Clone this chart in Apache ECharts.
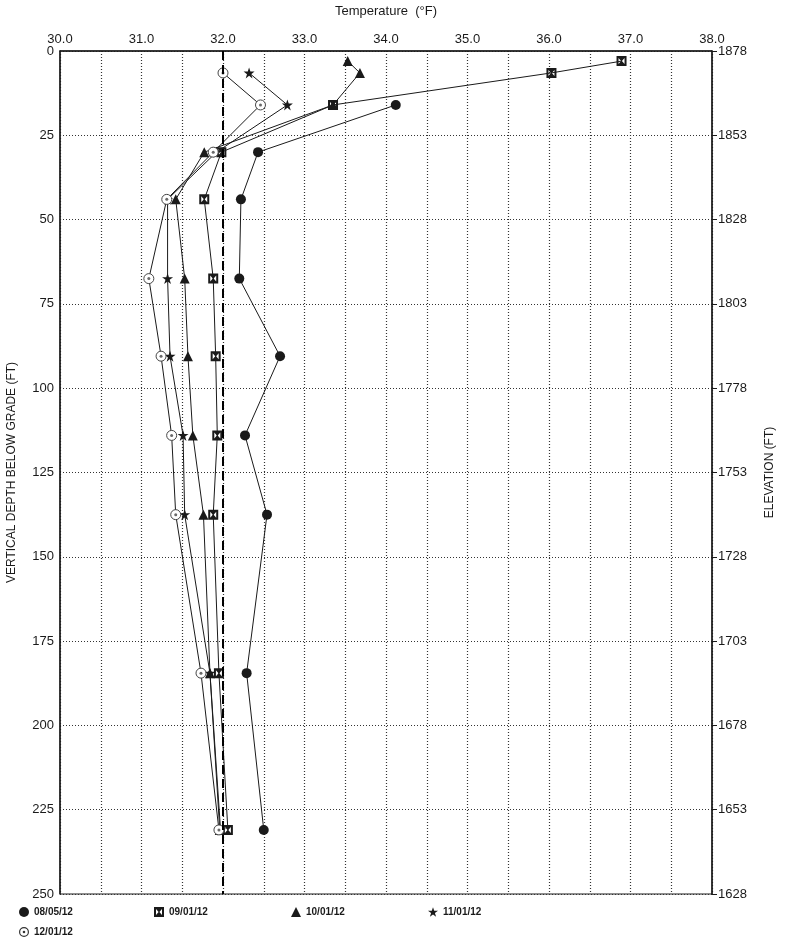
<!DOCTYPE html>
<html>
<head>
<meta charset="utf-8">
<script src="https://cdn.jsdelivr.net/npm/echarts@6/dist/echarts.min.js"></script>
<style>
  html, body { margin: 0; padding: 0; background: #fff; }
  #chart { width: 792px; height: 943px; }
</style>
</head>
<body>
<div id="chart"></div>
<script>
// depth (ft) and temperature (F)
const depth0805 = [16, 30, 44, 67.5, 90.5, 114, 137.5, 184.5, 231];
const temp0805 = [34.12, 32.43, 32.22, 32.2, 32.7, 32.27, 32.54, 32.29, 32.5];

const depth0901 = [3, 6.5, 16, 30, 44, 67.5, 90.5, 114, 137.5, 184.5, 231];
const temp0901 = [36.89, 36.03, 33.35, 31.98, 31.77, 31.88, 31.91, 31.93, 31.88, 31.95, 32.06];

const depth1001 = [3, 6.5, 16, 30, 44, 67.5, 90.5, 114, 137.5, 184.5, 231];
const temp1001 = [33.53, 33.68, 33.35, 31.77, 31.42, 31.53, 31.57, 31.63, 31.76, 31.84, 31.96];

const depth1101 = [6.5, 16, 30, 44, 67.5, 90.5, 114, 137.5, 184.5, 231];
const temp1101 = [32.32, 32.79, 31.92, 31.32, 31.32, 31.35, 31.51, 31.53, 31.84, 31.97];

const depth1201 = [6.5, 16, 30, 44, 67.5, 90.5, 114, 137.5, 184.5, 231];
const temp1201 = [32.0, 32.46, 31.88, 31.31, 31.09, 31.24, 31.37, 31.42, 31.73, 31.95];

const freezeTemp = 32.0;
const topElevation = 1878;

function pairs(t, d) {
  return t.map(function (v, i) { return [v, d[i]]; });
}

const squareIcon = 'path://M0 0L10 0L10 10L0 10Z M2 2L2 8L4.6 5Z M8 2L5.4 5L8 8Z';
const starIcon = 'path://M5 0L6.2 3.6L10 3.6L6.9 5.8L8.1 9.5L5 7.2L1.9 9.5L3.1 5.8L0 3.6L3.8 3.6Z';
const ringDotIcon = 'path://M0 5A5 5 0 1 1 10 5A5 5 0 1 1 0 5Z M1.2 5A3.8 3.8 0 1 0 8.8 5A3.8 3.8 0 1 0 1.2 5Z M3.7 5A1.3 1.3 0 1 1 6.3 5A1.3 1.3 0 1 1 3.7 5Z';

const ink = '#1a1a1a';
const font = 'Liberation Sans, Arial, sans-serif';

function lineSeries(name, data, symbol, size) {
  return {
    name: name,
    type: 'line',
    data: data,
    symbol: symbol,
    symbolSize: size,
    lineStyle: { color: ink, width: 1 },
    itemStyle: { color: ink },
    z: 3
  };
}

function legendAt(name, icon, left, top, style) {
  const item = { name: name, icon: icon };
  if (style) item.itemStyle = style;
  return {
    left: left,
    top: top,
    itemWidth: 10,
    itemHeight: 10,
    textStyle: { fontFamily: font, fontSize: 10, fontWeight: 'bold', color: ink },
    data: [item]
  };
}

const myChart = echarts.init(document.getElementById('chart'));

const s0805 = lineSeries('08/05/12', pairs(temp0805, depth0805), 'circle', 10);
s0805.markLine = {
  silent: true,
  symbol: ['none', 'none'],
  label: { show: false },
  lineStyle: { color: '#000', type: [9, 5], width: 2 },
  data: [{ xAxis: freezeTemp }]
};

const s1201 = lineSeries('12/01/12', pairs(temp1201, depth1201), 'circle', 10);
s1201.itemStyle = { color: '#fff', borderColor: '#444', borderWidth: 1 };

const option = {
  animation: false,
  grid: {
    left: 60, right: 80, top: 51, bottom: 49,
    outerBoundsMode: 'none',
    containLabel: false,
    show: true, borderColor: ink, borderWidth: 1
  },
  legend: [
    legendAt('08/05/12', 'circle', 14, 902),
    legendAt('09/01/12', squareIcon, 149, 902),
    legendAt('10/01/12', 'triangle', 286, 902),
    legendAt('11/01/12', starIcon, 423, 902),
    legendAt('12/01/12', ringDotIcon, 14, 922, { color: '#333', borderWidth: 0 })
  ],
  xAxis: {
    type: 'value',
    position: 'top',
    min: 30, max: 38, interval: 0.5,
    name: 'Temperature  (°F)',
    nameLocation: 'middle',
    nameGap: 33,
    nameTextStyle: { fontFamily: font, fontSize: 13, color: ink },
    axisLine: { show: true, lineStyle: { color: ink, width: 1.5 } },
    axisTick: { show: false },
    axisLabel: {
      fontFamily: font, fontSize: 13, color: ink, margin: 5,
      formatter: function (v) { return v % 1 === 0 ? v.toFixed(1) : ''; }
    },
    splitLine: { show: true, lineStyle: { color: '#333', type: [1, 2], width: 1.2 } }
  },
  yAxis: [
    {
      type: 'value',
      inverse: true,
      min: 0, max: 250, interval: 25,
      name: 'VERTICAL DEPTH BELOW GRADE (FT)',
      nameLocation: 'middle',
      nameGap: 42,
      nameTextStyle: { fontFamily: font, fontSize: 12, color: ink },
      axisLine: { show: true, lineStyle: { color: ink, width: 1.5 } },
      axisTick: { show: false },
      axisLabel: { fontFamily: font, fontSize: 13, color: ink, margin: 6 },
      splitLine: { show: true, lineStyle: { color: '#333', type: [1, 2], width: 1.2 } }
    },
    {
      type: 'value',
      inverse: true,
      position: 'right',
      min: 0, max: 250, interval: 25,
      name: 'ELEVATION (FT)',
      nameLocation: 'middle',
      nameGap: 52,
      nameTextStyle: { fontFamily: font, fontSize: 12, color: ink },
      axisLine: { show: true, lineStyle: { color: ink, width: 1.5 } },
      axisTick: { show: true, length: 5, lineStyle: { color: ink } },
      axisLabel: {
        fontFamily: font, fontSize: 13, color: ink, margin: 6,
        formatter: function (v) { return String(topElevation - v); }
      },
      splitLine: { show: false }
    }
  ],
  series: [
    s0805,
    lineSeries('09/01/12', pairs(temp0901, depth0901), squareIcon, 10),
    lineSeries('10/01/12', pairs(temp1001, depth1001), 'triangle', 10),
    lineSeries('11/01/12', pairs(temp1101, depth1101), starIcon, 11),
    s1201,
    {
      name: '12/01/12 dot',
      type: 'scatter',
      data: pairs(temp1201, depth1201),
      symbol: 'circle',
      symbolSize: 3,
      itemStyle: { color: '#444' },
      z: 4
    }
  ]
};

myChart.setOption(option);
</script>
</body>
</html>
